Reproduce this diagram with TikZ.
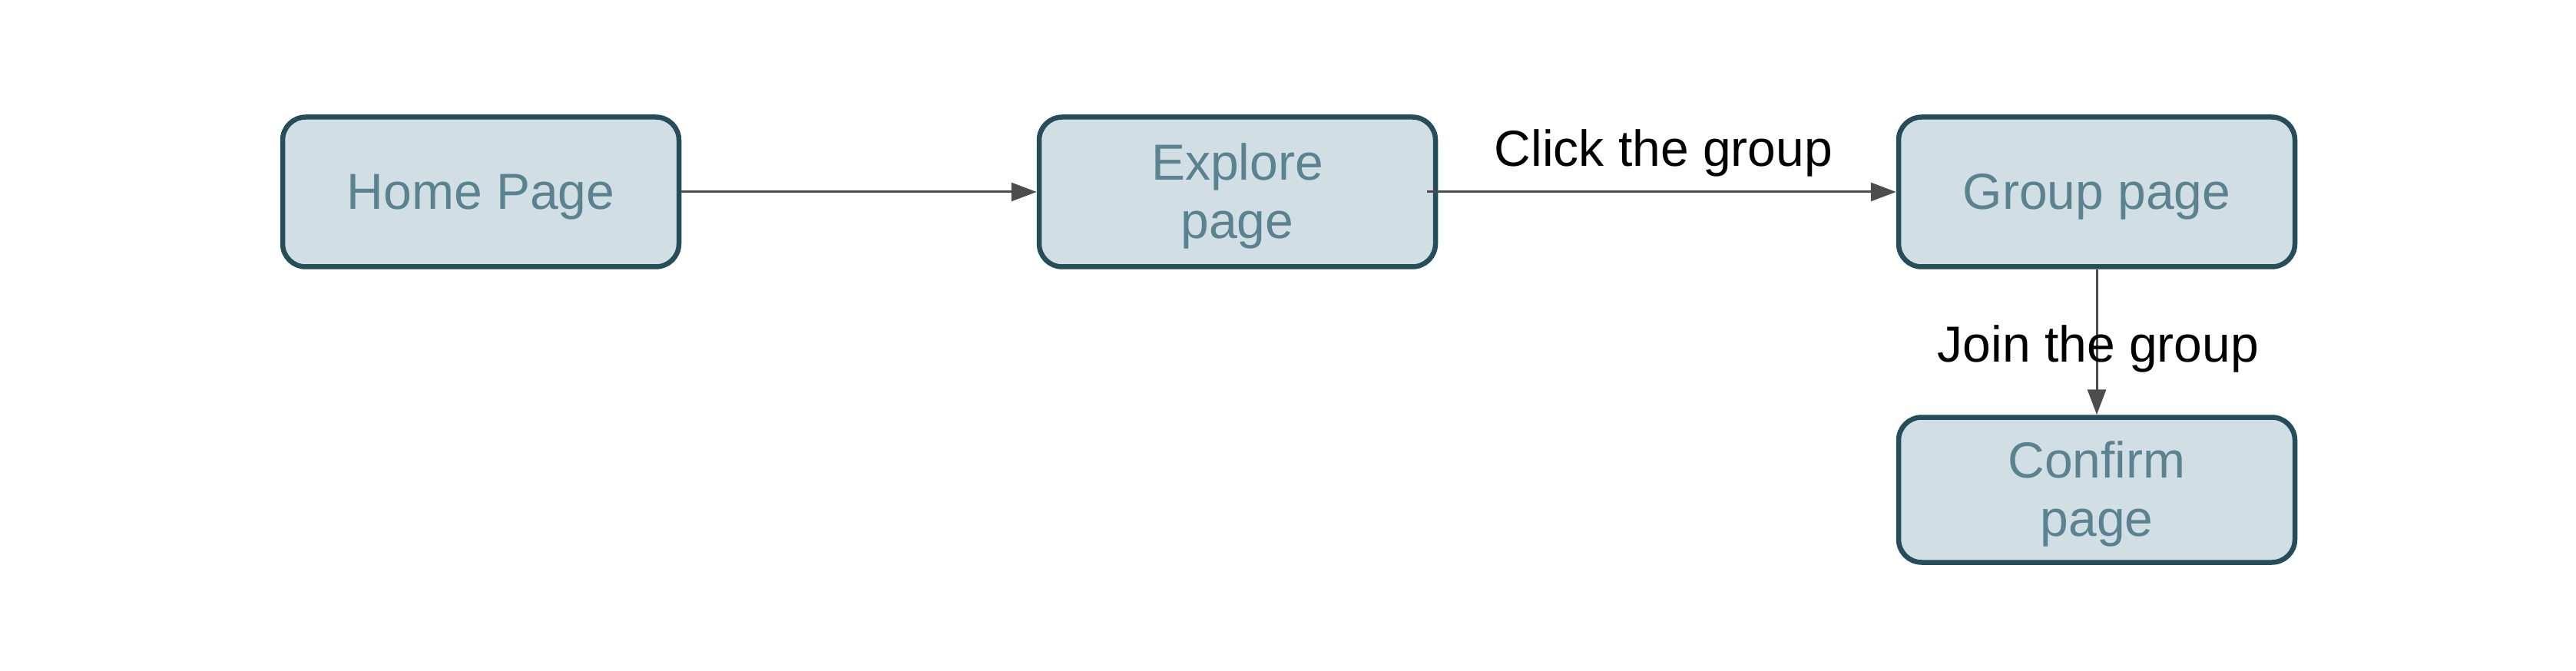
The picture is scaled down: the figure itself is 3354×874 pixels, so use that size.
\documentclass[tikz,border=0pt]{standalone}
\usepackage{fontspec}
\setmainfont{Liberation Sans}
\usetikzlibrary{arrows.meta}
\definecolor{boxfill}{RGB}{209,223,228}
\definecolor{boxdraw}{RGB}{38,78,90}
\definecolor{boxtext}{RGB}{90,131,143}
\definecolor{arrowcol}{RGB}{77,77,77}
\newcommand\lnstrut{\rule[-0.212em]{0pt}{1.117em}}
\tikzset{
  pagebox/.style={draw=boxdraw, fill=boxfill, line width=6.5pt, rounded corners=30pt,
    minimum width=516pt, minimum height=195pt, inner sep=0pt, align=center,
    text=boxtext, font=\fontsize{66}{76}\selectfont},
  conn/.style={draw=arrowcol, line width=3pt, -{Triangle[length=33pt,width=24pt]}},
  lbl/.style={anchor=base, inner sep=0pt, text=black, font=\fontsize{66}{76}\selectfont}
}
\begin{document}
\begin{tikzpicture}[x=1pt,y=-1pt]
\useasboundingbox (0,0) rectangle (3354,874);
\node[pagebox] (home) at (626,250) {\lnstrut Home Page};
\node[pagebox] (explore) at (1611,250) {\lnstrut Explore\\\lnstrut page};
\node[pagebox] (group) at (2730,250) {\lnstrut Group page};
\node[pagebox, minimum height=189pt] (confirm) at (2730,638) {\lnstrut Confirm\\\lnstrut page};
\coordinate (exstart) at (1858,250);
\draw[conn] (home.east) -- (explore.west);
\draw[conn] (exstart) -- (group.west);
\draw[conn] (group.south) -- (confirm.north);
\node[lbl] (clickl) at (2166,217) {Click the group};
\node[lbl] (joinl) at (2732,471) {Join the group};
\end{tikzpicture}
\end{document}
